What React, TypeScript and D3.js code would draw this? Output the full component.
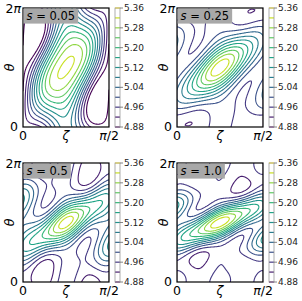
import { useLayoutEffect, useRef, useState } from "react";
import * as d3 from "d3";

// field periods, contour levels and labels
const nfp = 4;
const levels = [4.88, 4.92, 4.96, 5.0, 5.04, 5.08, 5.12, 5.16, 5.2, 5.24, 5.28, 5.32, 5.36];
const cbTicks = ["4.88", "4.96", "5.04", "5.12", "5.20", "5.28", "5.36"];
const sLabels = ["0.05", "0.25", "0.5", "1.0"];

// Boozer harmonics of |B|: bmn * cos(m*theta - n*nfp*zeta)
const modeM = [0, 0, 0, 1, 1, 1, 2, 2, 2, 3, 3, 4, 4, 1];
const modeN = [0, 1, 2, 0, 1, 2, 0, 1, 2, 1, 2, 1, 2, -1];
const bmnS005 = [5.05, -0.165, 0, -0.08, 0.105, 0.03, 0, 0, 0, 0, 0, 0, 0, -0.04];
const bmnS025 = [5.035, -0.05, 0.01, -0.1, 0.075, 0, 0.006, -0.059, 0.004, 0.006, -0.005, 0, 0, 0];
const bmnS05 = [5.028, -0.0126, 0.03, -0.11, 0.045, 0, 0.012, -0.076, 0.002, 0.021, -0.005, 0, 0.003, 0];
const bmnS10 = [5.014, -0.0056, 0.02, -0.105, 0.03, 0, 0.048, -0.061, 0, 0.049, 0, -0.015, 0.002, 0];
const spectra = [bmnS005, bmnS025, bmnS05, bmnS10];

const nx = 96;
const ny = 128;
const font = "DejaVu Sans";

function field(bmn: number[]) {
  const vals: number[] = new Array(nx * ny);
  for (let j = 0; j < ny; j++) {
    const th = (2 * Math.PI * j) / (ny - 1);
    for (let i = 0; i < nx; i++) {
      const ze = ((Math.PI / 2) * i) / (nx - 1);
      let b = 0;
      for (let k = 0; k < bmn.length; k++) {
        b += bmn[k] * Math.cos(modeM[k] * th - modeN[k] * nfp * ze);
      }
      vals[j * nx + i] = b;
    }
  }
  return vals;
}

const color = d3
  .scaleSequential(d3.interpolateViridis)
  .domain([levels[0], levels[levels.length - 1]]);

function SLabel({ x, y, s }: { x: number; y: number; s: string }) {
  const ref = useRef<SVGTextElement>(null);
  const [w, setW] = useState(44);
  useLayoutEffect(() => {
    if (ref.current) setW(ref.current.getBBox().width + 6);
  }, [s]);
  return (
    <g>
      <rect x={x} y={y} width={w} height={15} fill="#a8a8a8" />
      <text ref={ref} x={x + 3} y={y + 11.5} fontSize={11.5} fontFamily={font}>
        <tspan fontStyle="italic">s</tspan>
        <tspan> = {s}</tspan>
      </text>
    </g>
  );
}

function Panel({ x0, y0, idx }: { x0: number; y0: number; idx: number }) {
  const w = 86;
  const h = 119;
  const xs = d3.scaleLinear().domain([0, Math.PI / 2]).range([x0, x0 + w]);
  const ys = d3.scaleLinear().domain([0, 2 * Math.PI]).range([y0 + h, y0]);
  const values = field(spectra[idx]);
  const contours = d3.contours().size([nx, ny]).thresholds(levels)(values);
  const path = d3.geoPath(
    d3.geoTransform({
      point(px: number, py: number) {
        this.stream.point(
          xs(((px - 0.5) * (Math.PI / 2)) / (nx - 1)),
          ys(((py - 0.5) * 2 * Math.PI) / (ny - 1))
        );
      },
    })
  );
  const cbx = x0 + w + 6;
  const cbw = 5;
  const cy = d3.scaleLinear().domain([levels[0], levels[levels.length - 1]]).range([y0 + h, y0]);
  const clipId = `clip${idx}`;
  return (
    <g>
      <clipPath id={clipId}>
        <rect x={x0} y={y0} width={w} height={h} />
      </clipPath>
      <rect x={x0} y={y0} width={w} height={h} fill="white" />
      <g clipPath={`url(#${clipId})`}>
        {contours.map((c, k) => (
          <path key={k} d={path(c as any) || ""} fill="none" stroke={color(c.value)} strokeWidth={1.1} />
        ))}
      </g>
      <rect x={x0} y={y0} width={w} height={h} fill="none" stroke="black" strokeWidth={1.2} />
      <SLabel x={x0 + 0.6} y={y0 + 0.6} s={sLabels[idx]} />
      {/* colorbar */}
      {levels.map((l) => (
        <line key={l} x1={cbx} x2={cbx + cbw} y1={cy(l)} y2={cy(l)} stroke={color(l)} strokeWidth={1.2} />
      ))}
      <rect x={cbx} y={y0} width={cbw} height={h} fill="none" stroke="#999" strokeWidth={0.8} />
      {cbTicks.map((t) => (
        <g key={t}>
          <line x1={cbx + cbw} x2={cbx + cbw + 3} y1={cy(+t)} y2={cy(+t)} stroke="#666" strokeWidth={0.8} />
          <text x={cbx + cbw + 4} y={cy(+t)} dy="0.35em" fontSize={9} fontFamily={font} fill="#222">
            {t}
          </text>
        </g>
      ))}
      {/* axes labels */}
      <text x={x0 - 2} y={y0 + 5} fontSize={12.5} fontFamily={font} textAnchor="end">
        2<tspan fontStyle="italic">π</tspan>
      </text>
      <text x={x0 - 5} y={y0 + h + 4} fontSize={12.5} fontFamily={font} textAnchor="end">
        0
      </text>
      <text x={x0} y={y0 + h + 13} fontSize={12.5} fontFamily={font} textAnchor="middle">
        0
      </text>
      <text x={x0 + w / 2} y={y0 + h + 13} fontSize={12.5} fontFamily={font} textAnchor="middle" fontStyle="italic">
        ζ
      </text>
      <text x={x0 + w} y={y0 + h + 13} fontSize={12.5} fontFamily={font} textAnchor="middle">
        <tspan fontStyle="italic">π</tspan>/2
      </text>
      <text
        transform={`translate(${x0 - 9},${y0 + h / 2}) rotate(-90)`}
        fontSize={12.5}
        fontFamily={font}
        fontStyle="italic"
        textAnchor="middle"
      >
        θ
      </text>
    </g>
  );
}

export default function App() {
  const colX = [23, 177];
  const rowY = [8, 163];
  return (
    <svg width={302} height={301} style={{ position: "absolute", left: 0, top: 0, background: "white" }}>
      {[0, 1, 2, 3].map((i) => (
        <Panel key={i} idx={i} x0={colX[i % 2]} y0={rowY[Math.floor(i / 2)]} />
      ))}
    </svg>
  );
}
